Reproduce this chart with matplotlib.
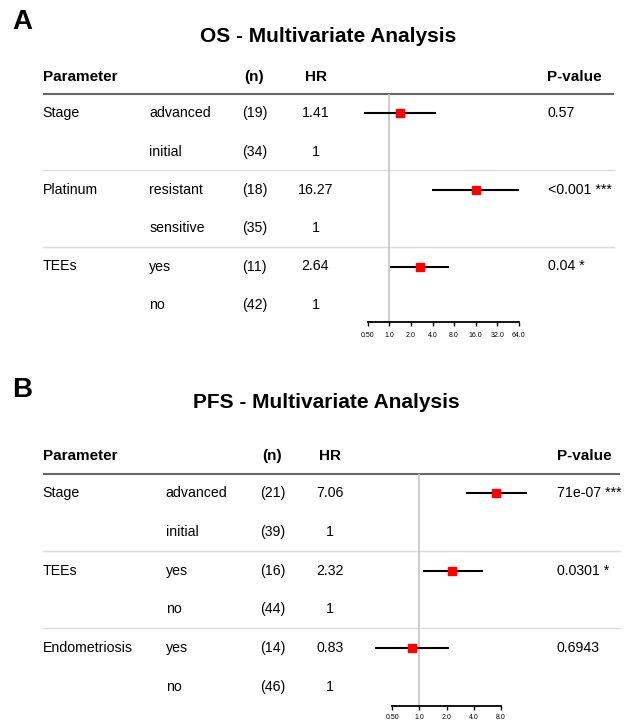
import numpy as np
import matplotlib
matplotlib.use('Agg')
import matplotlib.pyplot as plt

plt.rcParams['font.family'] = ['Liberation Sans', 'DejaVu Sans']

W, H = 624, 726

# ------------------ Panel A: OS ------------------
os_params = ['Stage', '', 'Platinum', '', 'TEEs', '']
os_levels = ['advanced', 'initial', 'resistant', 'sensitive', 'yes', 'no']
os_n = [19, 34, 18, 35, 11, 42]
os_hr_txt = ['1.41', '1', '16.27', '1', '2.64', '1']
os_hr = [1.41, np.nan, 16.27, np.nan, 2.64, np.nan]
os_lo = [0.44, np.nan, 3.94, np.nan, 1.02, np.nan]
os_hi = [4.5, np.nan, 65.0, np.nan, 6.7, np.nan]
os_p = ['0.57', '', '<0.001 ***', '', '0.04 *', '']
os_ticks = [0.5, 1, 2, 4, 8, 16, 32, 64]
os_ticklabels = ['0.50', '1.0', '2.0', '4.0', '8.0', '16.0', '32.0', '64.0']

# ------------------ Panel B: PFS ------------------
pfs_params = ['Stage', '', 'TEEs', '', 'Endometriosis', '']
pfs_levels = ['advanced', 'initial', 'yes', 'no', 'yes', 'no']
pfs_n = [21, 39, 16, 44, 14, 46]
pfs_hr_txt = ['7.06', '1', '2.32', '1', '0.83', '1']
pfs_hr = [7.06, np.nan, 2.32, np.nan, 0.83, np.nan]
pfs_lo = [3.26, np.nan, 1.09, np.nan, 0.32, np.nan]
pfs_hi = [15.4, np.nan, 5.03, np.nan, 2.15, np.nan]
pfs_p = ['71e-07 ***', '', '0.0301 *', '', '0.6943', '']
pfs_ticks = [0.5, 1, 2, 4, 8]
pfs_ticklabels = ['0.50', '1.0', '2.0', '4.0', '8.0']

fig = plt.figure(figsize=(W / 100, H / 100), dpi=100)


def draw_panel(letter, title, params, levels, n, hr_txt, hr, lo, hi, pvals,
               ticks, ticklabels, lay):
    row0, step = lay['row0'], lay['step']
    head_px, axis_px = lay['head_px'], lay['axis_px']
    to_row = lambda px: (px - row0) / step
    bottom = 1 - axis_px / H
    height = (axis_px - head_px) / H
    ylim = (to_row(axis_px), to_row(head_px))

    # table layer, x in pixels
    tab = fig.add_axes([0, bottom, 1, height])
    tab.set_xlim(0, W)
    tab.set_ylim(*ylim)
    tab.axis('off')

    hy = to_row(lay['hdr_px'])
    tab.text(lay['c1'], hy, 'Parameter', ha='left', va='center',
             fontsize=11, fontweight='bold')
    tab.text(lay['cn'], hy, '(n)', ha='center', va='center',
             fontsize=11, fontweight='bold')
    tab.text(lay['chr'], hy, 'HR', ha='center', va='center',
             fontsize=11, fontweight='bold')
    tab.text(lay['cp'], hy, 'P-value', ha='left', va='center',
             fontsize=11, fontweight='bold')

    for i in range(len(levels)):
        tab.text(lay['c1'], i, params[i], ha='left', va='center', fontsize=10.2)
        tab.text(lay['c2'], i, levels[i], ha='left', va='center', fontsize=10.2)
        tab.text(lay['cn'], i, '(%d)' % n[i], ha='center', va='center', fontsize=10.2)
        tab.text(lay['chr'], i, hr_txt[i], ha='center', va='center', fontsize=10.2)
        tab.text(lay['cp'], i, pvals[i], ha='left', va='center', fontsize=10.2)

    tab.plot([42.5, lay['line_end']], [ylim[1], ylim[1]], color='#666666',
             lw=1.5, clip_on=False, solid_capstyle='butt')
    for k in (1.5, 3.5):
        tab.plot([42.5, lay['line_end']], [k - 0.02, k - 0.02], color='#dadada',
                 lw=1.0, clip_on=False)

    # forest layer, log2 scale
    fl, fr = 335, 540
    one, ppd = lay['one_px'], lay['ppd']
    fax = fig.add_axes([fl / W, bottom, (fr - fl) / W, height])
    fax.patch.set_alpha(0)
    fax.set_xscale('log', base=2)
    fax.set_xlim(2 ** ((fl - one) / ppd), 2 ** ((fr - one) / ppd))
    fax.set_ylim(*ylim)
    fax.axvline(1, color='#c8c8c8', lw=1.3, zorder=1)
    rows = np.arange(len(levels))
    fax.hlines(rows, lo, hi, color='black', lw=1.5, zorder=2)
    fax.plot(hr, rows, 's', color='#ff0000', ms=5.5, zorder=3)

    for s in ('top', 'right', 'left'):
        fax.spines[s].set_visible(False)
    fax.spines['bottom'].set_bounds(ticks[0], ticks[-1])
    fax.spines['bottom'].set_linewidth(1.3)
    fax.set_yticks([])
    fax.set_xticks(ticks)
    fax.set_xticklabels(ticklabels)
    fax.xaxis.set_minor_locator(matplotlib.ticker.NullLocator())
    fax.tick_params(axis='x', direction='out', length=3, width=1,
                    labelsize=5, pad=lay['pad'])

    fig.text(lay['title_x'] / W, 1 - lay['title_y'] / H, title, ha='center',
             va='center', fontsize=15, fontweight='bold')
    fig.text(12 / W, 1 - lay['letter_y'] / H, letter, ha='left', va='center',
             fontsize=20, fontweight='bold')


draw_panel('A', 'OS - Multivariate Analysis', os_params, os_levels, os_n,
           os_hr_txt, os_hr, os_lo, os_hi, os_p, os_ticks, os_ticklabels,
           dict(row0=113.3, step=38.3, head_px=93.7, axis_px=322, hdr_px=76.7,
                c1=42.7, c2=149.3, cn=254.5, chr=315.5, cp=547.5,
                line_end=614, one_px=389.3, ppd=21.6, pad=4.5,
                title_x=328, title_y=36.7, letter_y=22))

draw_panel('B', 'PFS - Multivariate Analysis', pfs_params, pfs_levels, pfs_n,
           pfs_hr_txt, pfs_hr, pfs_lo, pfs_hi, pfs_p, pfs_ticks, pfs_ticklabels,
           dict(row0=493.3, step=38.7, head_px=473.7, axis_px=705.7, hdr_px=455.7,
                c1=42.7, c2=165.7, cn=272.5, chr=330.0, cp=556.7,
                line_end=620, one_px=419.3, ppd=27.2, pad=3,
                title_x=326, title_y=403, letter_y=390))

fig.savefig('out.png', dpi=100)
